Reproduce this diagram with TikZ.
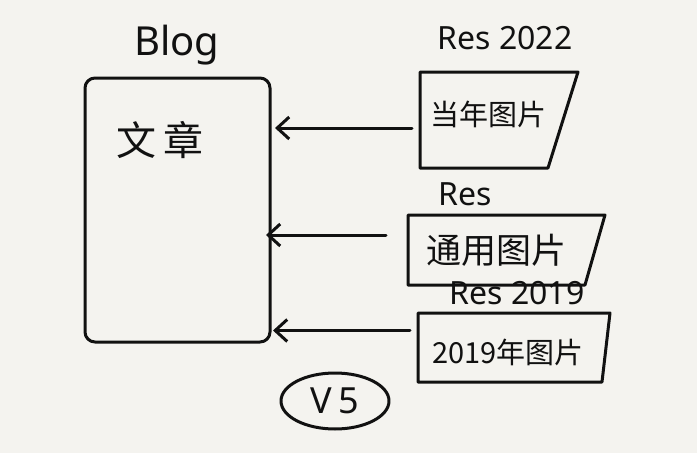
\documentclass[tikz,border=0pt]{standalone}
\usepackage{fontspec}
\setmainfont{Noto Sans}
\newfontfamily\cjk{Noto Sans CJK SC}
\usetikzlibrary{arrows.meta,calc,shapes.geometric}
\definecolor{paper}{HTML}{F4F3EF}
\definecolor{inkc}{HTML}{111111}
\begin{document}
\begin{tikzpicture}[x=1pt,y=-1pt,
  pen/.style={draw=inkc,line width=3pt,line join=round,line cap=round},
  lbl/.style={text=inkc,font=\fontsize{32}{34}\selectfont},
  zh/.style={text=inkc,font=\cjk\fontsize{29}{31}\selectfont},
  area/.style={inner sep=0pt,outer sep=0pt},
  arr/.style={pen,-{Straight Barb[length=12pt,width=22pt,line width=3pt]}}]
\fill[paper] (0,0) rectangle (697,453);
\useasboundingbox (0,0) rectangle (697,453);

% Blog box
\node[area,minimum width=185pt,minimum height=264pt] (blog) at (177.5,210) {};
\draw[pen,rounded corners=10pt] (blog.north west) -- (blog.north east) -- (blog.south east) -- (blog.south west) -- cycle;
\node[lbl,font=\fontsize{40}{42}\selectfont] (blogt) at (177,45) {Blog};
\node[zh,font=\cjk\fontsize{40}{42}\selectfont] (wz) at (160,140) {文\,章};

% box 1
\node[area,minimum width=158pt,minimum height=96pt] (b1) at (499,120) {};
\draw[pen] (b1.north west) -- (b1.north east) -- ([xshift=-30pt]b1.south east) -- (b1.south west) -- cycle;
\node[zh] (t1) at (488,114) {当年图片};
\node[lbl] (r1) at (505,38) {Res 2022};

% box 2
\node[area,minimum width=197pt,minimum height=70pt] (b2) at (506.5,250) {};
\draw[pen] (b2.north west) -- (b2.north east) -- ([xshift=-20pt]b2.south east) -- (b2.south west) -- cycle;
\node[zh,font=\cjk\fontsize{35}{37}\selectfont] (t2) at (496,250) {通用图片};
\node[lbl] (r2) at (465,194) {Res};

% box 3
\node[area,minimum width=192pt,minimum height=69pt] (b3) at (514,347.5) {};
\draw[pen] (b3.north west) -- (b3.north east) -- ([xshift=-8pt]b3.south east) -- (b3.south west) -- cycle;
\node[zh] (t3) at (508,352) {2019年图片};
\node[lbl] (r3) at (517,293) {Res 2019};

% arrows
\draw[arr] ($(b1.west)+(-8,8)$) -- ($(blog.east |- b1.west)+(5,8)$);
\draw[arr] ($(b2.west)+(-22,-15)$) -- ($(blog.east |- b2.west)+(-4,-15)$);
\draw[arr] ($(b3.west)+(-8,-17)$) -- ($(blog.east |- b3.west)+(3,-17)$);

% V5
\node[pen,ellipse,minimum width=108pt,minimum height=56pt,lbl,font=\fontsize{36}{38}\selectfont] (v5) at (335,401) {V\,5};
\end{tikzpicture}
\end{document}
